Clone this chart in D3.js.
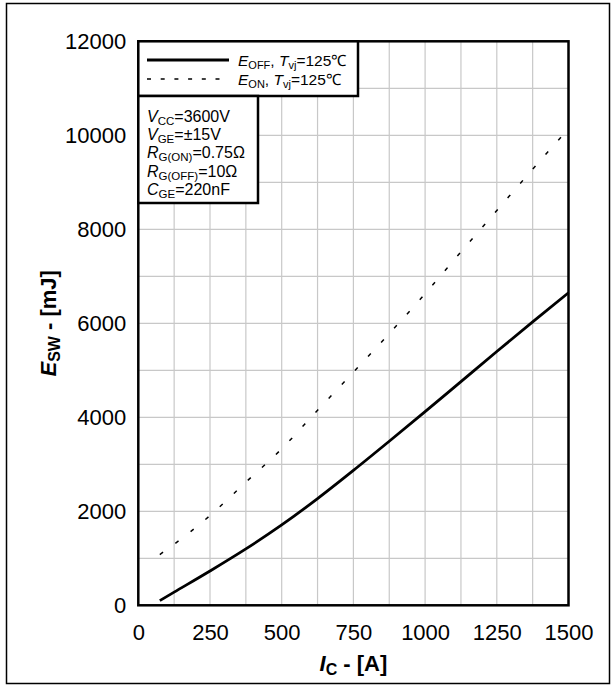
<!DOCTYPE html>
<html><head><meta charset="utf-8">
<script src="https://cdn.jsdelivr.net/npm/d3@7"></script>
<style>
html,body{margin:0;padding:0;background:#fff;}
text{font-family:"Liberation Sans",Arial,Helvetica,sans-serif;fill:#000;}
</style></head>
<body><svg id="c" width="614" height="686"></svg>
<script>
// ---- data ----
const currentA = [75,125,250,375,500,625,750,875,1000,1125,1250,1375,1500];
const eOff = [100,280,730,1200,1710,2270,2870,3490,4120,4760,5400,6030,6650];
const eOn  = [1080,1300,1910,2620,3330,4150,4960,5780,6630,7520,8400,9280,10140];
const xTickLabels = [0,250,500,750,1000,1250,1500];
const yTickLabels = [0,2000,4000,6000,8000,10000,12000];
const xGrid = d3.range(0,1501,125);
const yGrid = d3.range(0,12001,1000);
const conditions = [
  ["V","CC","=3600V"],
  ["V","GE","=\u00b115V"],
  ["R","G(ON)","=0.75\u03a9"],
  ["R","G(OFF)","=10\u03a9"],
  ["C","GE","=220nF"]
];

const svg = d3.select("#c");
const L=138.3, R=568.5, T=41.3, B=605.3;
const x = d3.scaleLinear().domain([0,1500]).range([L,R]);
const y = d3.scaleLinear().domain([0,12000]).range([B,T]);

// outer frame
svg.append("rect").attr("x",6.5).attr("y",3.5).attr("width",603).attr("height",680)
  .attr("fill","none").attr("stroke","#000").attr("stroke-width",1.5);

// grid
const g = svg.append("g");
g.selectAll("line.gx").data(xGrid).join("line")
  .attr("x1",d=>x(d)).attr("x2",d=>x(d)).attr("y1",T).attr("y2",B)
  .attr("stroke","#c8c8c8").attr("stroke-width",1.2);
g.selectAll("line.gy").data(yGrid).join("line")
  .attr("y1",d=>y(d)).attr("y2",d=>y(d)).attr("x1",L).attr("x2",R)
  .attr("stroke","#c8c8c8").attr("stroke-width",1.2);

// axes labels via d3 axes
const xAxis = svg.append("g").attr("transform",`translate(0,${B})`)
  .call(d3.axisBottom(x).tickValues(xTickLabels).tickSize(0).tickPadding(19).tickFormat(d3.format("d")));
const yAxis = svg.append("g").attr("transform",`translate(${L},0)`)
  .call(d3.axisLeft(y).tickValues(yTickLabels).tickSize(0).tickPadding(12).tickFormat(d3.format("d")));
[xAxis,yAxis].forEach(a=>{a.select(".domain").remove();
  a.selectAll("text").attr("font-size",22).attr("font-family","Liberation Sans, Arial, sans-serif").attr("fill","#000");});

// curves
const line = d3.line().x(d=>x(d[0])).y(d=>y(d[1])).curve(d3.curveMonotoneX);
svg.append("path").datum(currentA.map((c,i)=>[c,eOn[i]])).attr("d",line)
  .attr("fill","none").attr("stroke","#000").attr("stroke-width",1.5).attr("stroke-dasharray","4,15.2");
svg.append("path").datum(currentA.map((c,i)=>[c,eOff[i]])).attr("d",line)
  .attr("fill","none").attr("stroke","#000").attr("stroke-width",2.8);

// plot border
svg.append("rect").attr("x",L).attr("y",T).attr("width",R-L).attr("height",B-T)
  .attr("fill","none").attr("stroke","#000").attr("stroke-width",2.5);

// legend box
svg.append("rect").attr("x",L).attr("y",T).attr("width",358-L).attr("height",96-T)
  .attr("fill","#fff").attr("stroke","#000").attr("stroke-width",2.5);
svg.append("line").attr("x1",147).attr("x2",229).attr("y1",60).attr("y2",60)
  .attr("stroke","#000").attr("stroke-width",2.8);
svg.append("line").attr("x1",147).attr("x2",229).attr("y1",79).attr("y2",79)
  .attr("stroke","#000").attr("stroke-width",1.3).attr("stroke-dasharray","4,9.7");
function legendText(yb, sub){
  const t = svg.append("text").attr("x",238).attr("y",yb).attr("font-size",15.5);
  t.append("tspan").attr("font-style","italic").text("E");
  t.append("tspan").attr("font-size",11).attr("dy",3).text(sub);
  t.append("tspan").attr("dy",-3).text(", ");
  t.append("tspan").attr("font-style","italic").text("T");
  t.append("tspan").attr("font-size",11).attr("dy",3).text("vj");
  t.append("tspan").attr("dy",-3).text("=125\u2103");
}
legendText(66,"OFF");
legendText(85,"ON");

// conditions box
svg.append("rect").attr("x",L).attr("y",96).attr("width",258-L).attr("height",203-96)
  .attr("fill","#fff").attr("stroke","#000").attr("stroke-width",2.5);
conditions.forEach((c,i)=>{
  const t = svg.append("text").attr("x",147).attr("y",121.7+i*18.3).attr("font-size",16);
  t.append("tspan").attr("font-style","italic").text(c[0]);
  t.append("tspan").attr("font-size",11.5).attr("dy",3).text(c[1]);
  t.append("tspan").attr("dy",-3).text(c[2]);
});

// axis titles
const xt = svg.append("text").attr("x",(L+R)/2).attr("y",671).attr("text-anchor","middle")
  .attr("font-size",22).attr("font-weight","bold");
xt.append("tspan").attr("font-style","italic").text("I");
xt.append("tspan").attr("font-size",16).attr("dy",4).text("C");
xt.append("tspan").attr("dy",-4).text(" - [A]");

const ytg = svg.append("g").attr("transform",`translate(56,${(T+B)/2}) rotate(-90)`);
const yt = ytg.append("text").attr("x",0).attr("y",0)
  .attr("text-anchor","middle").attr("font-size",22).attr("font-weight","bold");
yt.append("tspan").attr("font-style","italic").text("E");
yt.append("tspan").attr("font-size",16).attr("baseline-shift","-4").text("SW");
yt.append("tspan").text("\u00a0-\u00a0[mJ]");
</script></body></html>
